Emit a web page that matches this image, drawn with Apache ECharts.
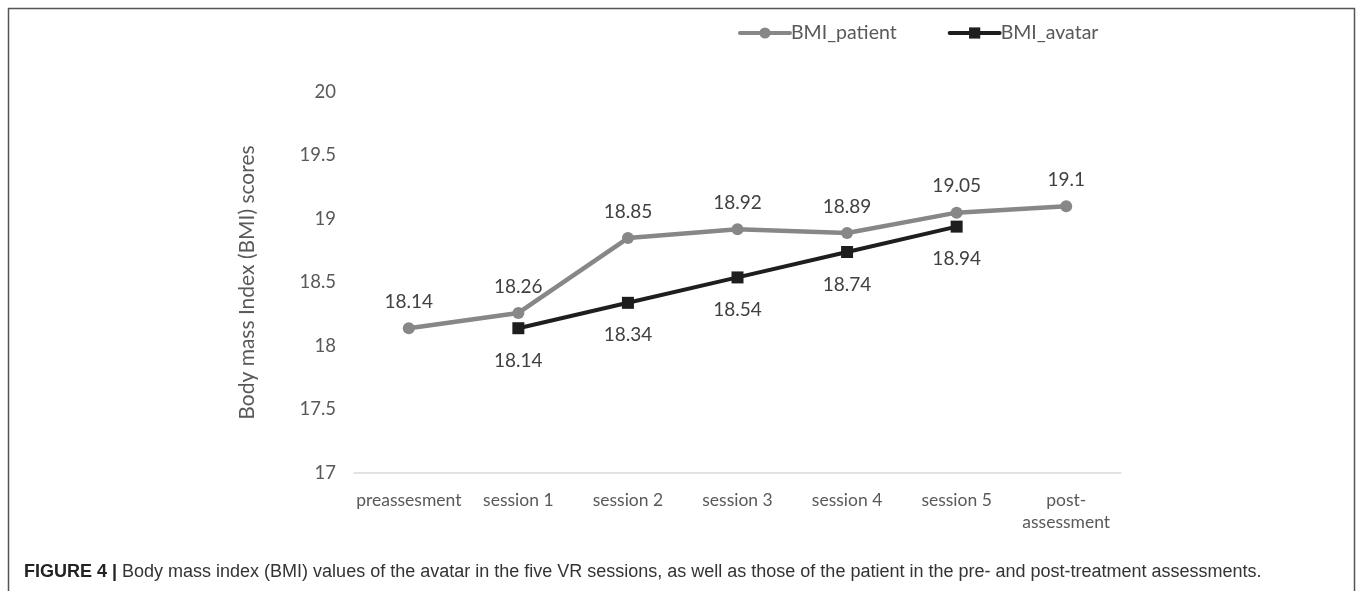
<!DOCTYPE html>
<html><head><meta charset="utf-8">
<script src="https://cdn.jsdelivr.net/npm/echarts@6/dist/echarts.min.js"></script>
<style>html,body{margin:0;padding:0;background:#fff}#c{width:1357px;height:591px}</style>
</head><body><div id="c"></div>
<script>
var categories = ['preassesment','session 1','session 2','session 3','session 4','session 5','post-\nassessment'];
var bmiPatient = [18.14, 18.26, 18.85, 18.92, 18.89, 19.05, 19.1];
var bmiAvatar = [null, 18.14, 18.34, 18.54, 18.74, 18.94, null];
var yTicks = {min: 17, max: 20, interval: 0.5};
var captionBold = 'FIGURE 4 |';
var captionText = ' Body mass index (BMI) values of the avatar in the five VR sessions, as well as those of the patient in the pre- and post-treatment assessments.';

var chart = echarts.init(document.getElementById('c'));
var font = 'Lato, "Open Sans", sans-serif';
var capFont = '"Liberation Sans", Arial, sans-serif';
chart.setOption({
  animation: false,
  textStyle: {fontFamily: font},
  title: {
    left: 24, top: 563, padding: 0,
    text: '{b|' + captionBold + '}{n|' + captionText + '}',
    textStyle: {
      rich: {
        b: {fontFamily: capFont, fontWeight: 'bold', fontSize: 18, color: '#222'},
        n: {fontFamily: capFont, fontWeight: 'normal', fontSize: 18, color: '#333'}
      }
    }
  },
  graphic: [{
    type: 'rect', silent: true,
    shape: {x: 8.5, y: 8.5, width: 1346, height: 640},
    style: {fill: 'none', stroke: '#555', lineWidth: 1.5}
  }],
  legend: {
    top: 23, left: 738, padding: 0,
    itemGap: 51,
    itemWidth: 50, itemHeight: 14,
    lineStyle: {width: 4, cap: 'round'},
    textStyle: {fontSize: 19.5, color: '#595959', fontFamily: font, padding: [0,0,0,-4]},
    data: ['BMI_patient', 'BMI_avatar']
  },
  grid: {left: 354, right: 236, top: 92, bottom: 118},
  xAxis: {
    type: 'category', data: categories, boundaryGap: true,
    axisLine: {lineStyle: {color: '#d9d9d9', width: 1.5}},
    axisTick: {show: false},
    axisLabel: {interval: 0, color: '#595959', fontSize: 17.5, margin: 16, lineHeight: 22, fontFamily: font}
  },
  yAxis: {
    type: 'value', min: yTicks.min, max: yTicks.max, interval: yTicks.interval,
    splitLine: {show: false},
    axisLine: {show: false}, axisTick: {show: false},
    axisLabel: {color: '#595959', fontSize: 18.5, margin: 18, fontFamily: font},
    name: 'Body mass Index (BMI) scores', nameLocation: 'middle', nameGap: 96,
    nameTextStyle: {color: '#595959', fontSize: 21, fontFamily: font}
  },
  series: [{
    name: 'BMI_patient', type: 'line', data: bmiPatient,
    symbol: 'circle', symbolSize: 12,
    lineStyle: {color: '#878787', width: 4.5},
    itemStyle: {color: '#878787'},
    label: {show: true, position: 'top', distance: 11, fontSize: 19, color: '#404040', fontFamily: font}
  }, {
    name: 'BMI_avatar', type: 'line', data: bmiAvatar,
    symbol: 'rect', symbolSize: 12,
    lineStyle: {color: '#1e1e1e', width: 4},
    itemStyle: {color: '#1e1e1e'},
    label: {show: true, position: 'bottom', distance: 17, fontSize: 19, color: '#404040', fontFamily: font}
  }]
});
</script></body></html>
